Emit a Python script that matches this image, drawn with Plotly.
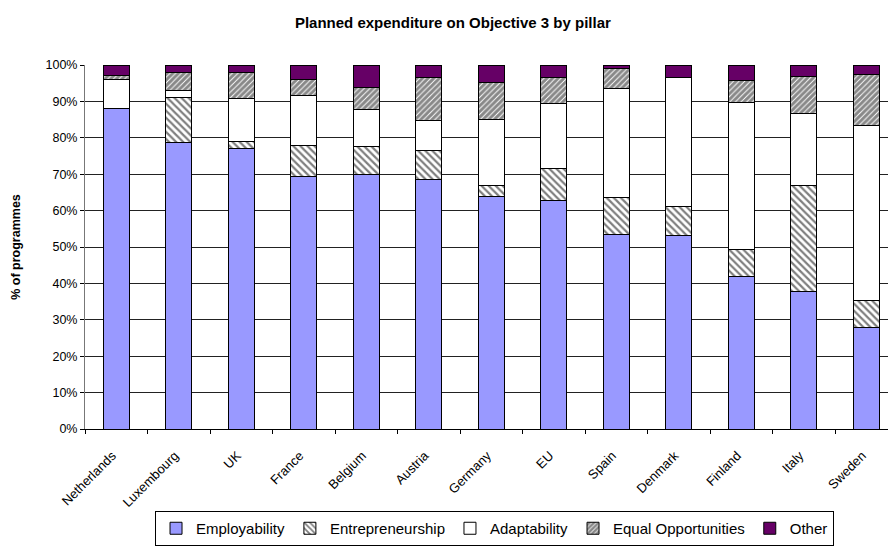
import plotly.graph_objects as go

# Planned expenditure on Objective 3, share of programmes by pillar (%)
countries = ["Netherlands", "Luxembourg", "UK", "France", "Belgium", "Austria",
             "Germany", "EU", "Spain", "Denmark", "Finland", "Italy", "Sweden"]

employability = [88.0, 78.8, 77.0, 69.5, 69.8, 68.5, 63.8, 62.8, 53.3, 53.1, 41.9, 37.9, 27.8]
entrepreneurship = [0.0, 12.2, 2.1, 8.3, 7.9, 8.1, 3.1, 8.8, 10.2, 8.1, 7.3, 29.0, 7.6]
adaptability = [8.0, 2.0, 11.8, 13.9, 10.2, 8.1, 18.0, 17.9, 30.0, 35.4, 40.5, 19.9, 48.0]
equal_opportunities = [1.0, 5.0, 7.1, 4.4, 6.0, 12.0, 10.2, 7.2, 5.5, 0.0, 6.1, 10.0, 14.1]
other = [3.0, 2.0, 2.0, 3.9, 6.1, 3.3, 4.9, 3.3, 1.0, 3.4, 4.2, 3.2, 2.5]

y_ticks = list(range(0, 101, 10))
y_tick_labels = [f"{v}%" for v in y_ticks]

FONT = "Liberation Sans, Arial, sans-serif"
outline = dict(color="#000000", width=1)

fig = go.Figure()
fig.add_trace(go.Bar(
    name="Employability", x=countries, y=employability,
    marker=dict(color="#9999FF", line=outline),
))
fig.add_trace(go.Bar(
    name="Entrepreneurship", x=countries, y=entrepreneurship,
    marker=dict(color="#FFFFFF", line=outline,
                pattern=dict(shape="\\", fgcolor="#000000", bgcolor="#FFFFFF",
                             size=5, solidity=0.45)),
))
fig.add_trace(go.Bar(
    name="Adaptability", x=countries, y=adaptability,
    marker=dict(color="#FFFFFF", line=outline),
))
fig.add_trace(go.Bar(
    name="Equal Opportunities", x=countries, y=equal_opportunities,
    marker=dict(color="#FFFFFF", line=outline,
                pattern=dict(shape="/", fgcolor="#111111", bgcolor="#FFFFFF",
                             size=4, solidity=0.78)),
))
fig.add_trace(go.Bar(
    name="Other", x=countries, y=other,
    marker=dict(color="#660066", line=outline),
))

fig.update_layout(
    width=888, height=546,
    barmode="stack", bargap=0.584,
    plot_bgcolor="#FFFFFF", paper_bgcolor="#FFFFFF",
    margin=dict(l=85, r=0, t=65, b=105),
    font=dict(family=FONT, size=12, color="#000000"),
    title=dict(text="<b>Planned expenditure on Objective 3 by pillar</b>",
               x=0.51, xanchor="center", y=1 - 23 / 546, yanchor="middle",
               font=dict(family=FONT, size=15, color="#000000")),
    showlegend=True,
    legend=dict(orientation="h", traceorder="normal",
                x=0.51, xanchor="center", y=-0.226, yanchor="top",
                bordercolor="#000000", borderwidth=1,
                font=dict(family=FONT, size=15, color="#000000"),
                itemwidth=30),
)

fig.update_xaxes(
    type="category", range=[-0.5, 12.348],
    tickson="boundaries", ticks="outside", ticklen=4, tickcolor="#000000",
    tickangle=-45, tickfont=dict(family=FONT, size=13),
    ticklabelstandoff=13, ticklabelshift=-4,
    showline=True, linecolor="#000000", linewidth=1,
    showgrid=False,
)
fig.update_yaxes(
    range=[0, 100], tickmode="array", tickvals=y_ticks, ticktext=y_tick_labels,
    ticks="outside", ticklen=4, tickcolor="#000000",
    tickfont=dict(family=FONT, size=12.5),
    showline=True, linecolor="#777777", linewidth=1,
    showgrid=True, gridcolor="#222222", gridwidth=1,
    zeroline=False,
    title=dict(text="<b>% of programmes</b>", standoff=22,
               font=dict(family=FONT, size=12.5)),
)

fig.write_html("out.html")
